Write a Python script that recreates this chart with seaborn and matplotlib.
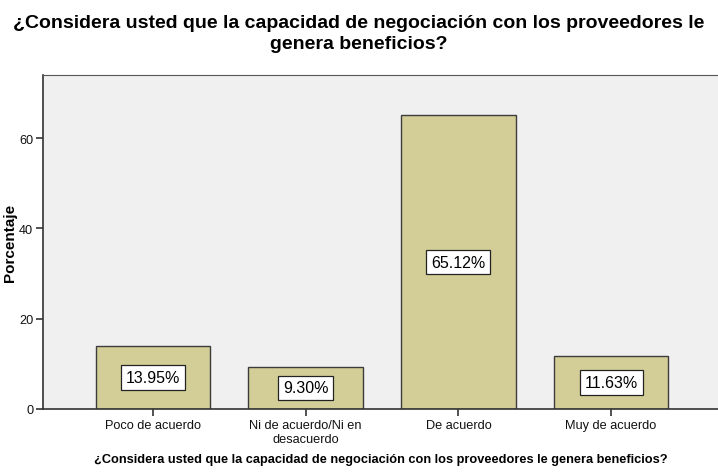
import pandas as pd
import seaborn as sns
import matplotlib.pyplot as plt

categorias = ["Poco de acuerdo", "Ni de acuerdo/Ni en\ndesacuerdo", "De acuerdo", "Muy de acuerdo"]
porcentajes = [13.95, 9.30, 65.12, 11.63]
etiquetas = ["13.95%", "9.30%", "65.12%", "11.63%"]

pregunta = "¿Considera usted que la capacidad de negociación con los proveedores le genera beneficios?"
titulo = "¿Considera usted que la capacidad de negociación con los proveedores le\ngenera beneficios?"

df = pd.DataFrame({"categoria": categorias, "porcentaje": porcentajes})

sns.set_style("white")
plt.rcParams['font.family'] = ['Liberation Sans', 'DejaVu Sans']

fig = plt.figure(figsize=(7.18, 4.77), dpi=100)
ax = fig.add_axes([0.0599, 0.1405, 0.9401, 0.7002])
ax.set_facecolor("#f0f0f0")

sns.barplot(data=df, x="categoria", y="porcentaje", color="#d3ce97", width=0.75,
            edgecolor="#3c3c3c", linewidth=1.0, saturation=1, ax=ax)

# etiquetas de valor en caja blanca
for i, (v, t) in enumerate(zip(porcentajes, etiquetas)):
    ax.text(i, v / 2, t, ha="center", va="center", fontsize=11.5, color="black",
            bbox=dict(boxstyle="square,pad=0.3", fc="white", ec="#222222", lw=0.9))

ax.set_xlim(-0.72, 3.70)
ax.set_ylim(0, 74)
ax.set_yticks([0, 20, 40, 60])

ax.spines["right"].set_visible(False)
for s in ["left", "bottom"]:
    ax.spines[s].set_color("#333333")
    ax.spines[s].set_linewidth(1.2)
ax.spines["top"].set_color("#555555")
ax.spines["top"].set_linewidth(0.8)

ax.tick_params(axis="both", direction="out", length=5, width=1.2, color="#333333",
               labelsize=9.2, labelcolor="#111111", pad=2, left=True, bottom=True)

ax.set_ylabel("Porcentaje", fontsize=11, fontweight="bold", color="black")
ax.set_xlabel(pregunta, fontsize=9.2, fontweight="bold", labelpad=6, color="black")
ax.yaxis.set_label_coords(-0.039, 0.5)

fig.suptitle(titulo, fontsize=14, fontweight="bold", y=0.968, linespacing=1.25, color="black")

plt.savefig("out.png", dpi=100)
